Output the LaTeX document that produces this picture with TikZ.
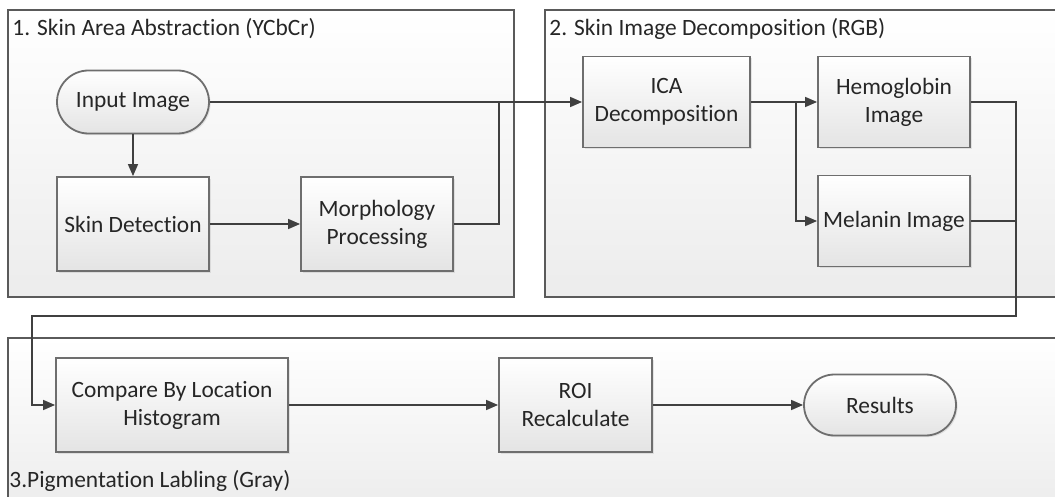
\documentclass[tikz,border=0pt]{standalone}
\usepackage{fontspec}
\setmainfont{Carlito}[Ligatures=NoCommon]
\usetikzlibrary{arrows.meta,shadows}
\definecolor{lineC}{HTML}{404040}
\definecolor{borderC}{HTML}{6E6E6E}
\definecolor{grpB}{HTML}{5A5A5A}
\definecolor{fillBot}{HTML}{E4E4E4}
\definecolor{grpBot}{HTML}{ECECEC}
\definecolor{textC}{HTML}{262626}
\begin{document}
\begin{tikzpicture}[x=0.5pt,y=-0.5pt,
  every node/.style={font=\fontsize{11.7}{14}\selectfont, text=textC},
  group/.style={draw=grpB, line width=0.8pt, top color=white, bottom color=grpBot},
  proc/.style={draw=borderC, line width=0.9pt, top color=white, bottom color=fillBot,
    align=center, inner sep=0pt,
    drop shadow={opacity=0.18, shadow xshift=0.8pt, shadow yshift=-0.8pt}},
  boxed/.style 2 args={proc, minimum width=#1, minimum height=#2},
  term/.style 2 args={proc, minimum width=#1, minimum height=#2, rounded corners=#2/2},
  conn/.style={draw=lineC, line width=0.75pt},
  arr/.style={conn, -{Triangle[length=6pt,width=5pt]}},
  title/.style={anchor=base west, inner sep=0pt}
]
\useasboundingbox (0,0) rectangle (1055,497);
\clip (0,0) rectangle (1055,497);

% groups
\path[group] (8,10) rectangle (514,297);
\path[group] (545,10) rectangle (1070,297);
\path[group] (8,338) rectangle (1070,510);

\node[title] (t1) at (12,36) {1. Skin Area Abstraction (YCbCr)};
\node[title] (t2) at (549,36) {2. Skin Image Decomposition (RGB)};
\node[title] (t3) at (9,487) {3.Pigmentation Labling (Gray)};

% nodes
\node[term={76pt}{31.5pt}] (in) at (133,102) {Input Image};
\node[boxed={76pt}{47pt}] (sd) at (133,224) {Skin Detection};
\node[boxed={76pt}{47pt}] (mp) at (377,224) {Morphology\\Processing};
\node[boxed={83.5pt}{45.5pt}] (ica) at (666.5,102) {ICA\\Decomposition};
\node[boxed={76pt}{45.5pt}] (hb) at (894,102) {Hemoglobin\\Image};
\node[boxed={76pt}{45.5pt}] (mel) at (894,221) {Melanin Image};
\node[boxed={116pt}{47pt}] (cmp) at (172,405) {Compare By Location\\Histogram};
\node[boxed={76.5pt}{47pt}] (roi) at (575.5,405) {ROI\\Recalculate};
\node[term={76pt}{30.5pt}] (res) at (880,405) {Results};

% junction coordinates
\coordinate (j1) at (499,102);
\coordinate (b) at (796,102);
\coordinate (j2) at (1016,221);
\coordinate (c1) at (1016,316);
\coordinate (c2) at (32,316);

% connectors
\draw[arr] (in) -- (ica);
\draw[conn] (mp.east) -| (j1);
\draw[arr] (in) -- (sd);
\draw[arr] (sd) -- (mp);
\draw[arr] (ica) -- (hb);
\draw[arr] (b) |- (mel.west);
\draw[arr] (hb.east) -| (c1) -- (c2) |- (cmp.west);
\draw[conn] (mel.east) -- (j2);
\draw[arr] (cmp) -- (roi);
\draw[arr] (roi) -- (res);
\end{tikzpicture}
\end{document}
